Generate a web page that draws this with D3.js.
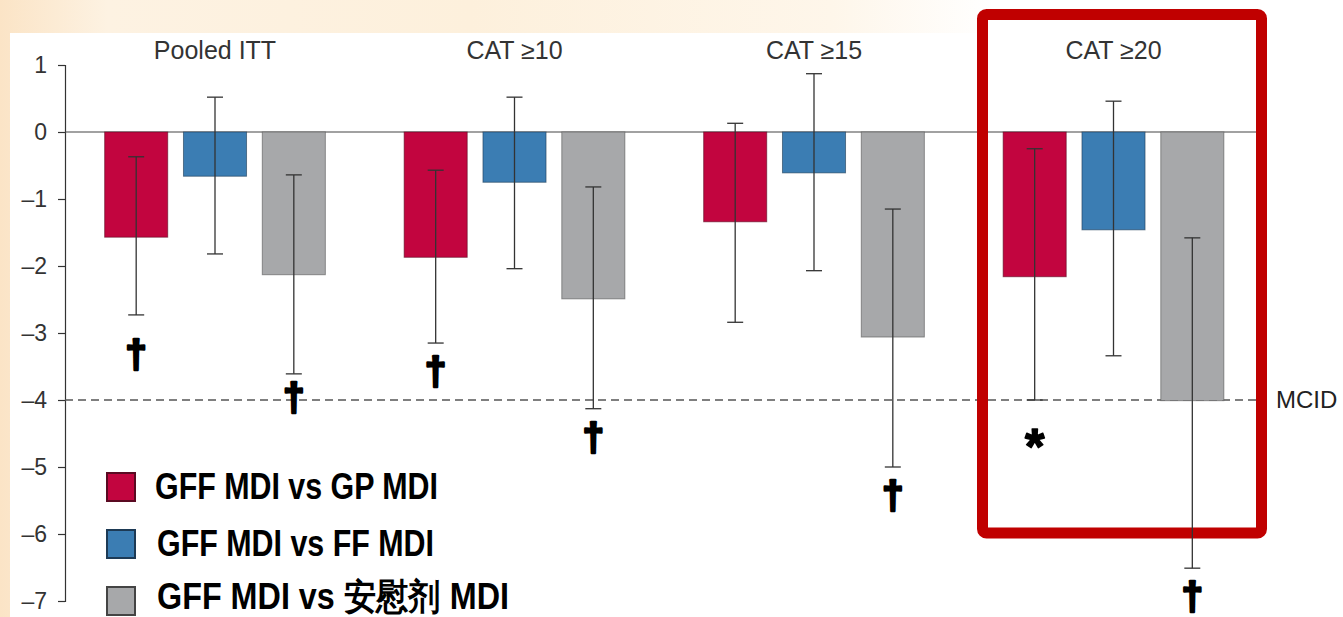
<!DOCTYPE html>
<html>
<head>
<meta charset="utf-8">
<script src="https://cdn.jsdelivr.net/npm/d3@7/dist/d3.min.js"></script>
<style>
  html, body { margin: 0; padding: 0; background: #ffffff; }
  svg { display: block; }
  text { font-family: "Liberation Sans", Arial, Helvetica, sans-serif; }
</style>
</head>
<body>
<svg id="chart" width="1343" height="617"></svg>
<script>
// Subgroups and treatment comparisons
const groups = ["Pooled ITT", "CAT \u226510", "CAT \u226515", "CAT \u226520"];
const series = ["GFF MDI vs GP MDI", "GFF MDI vs FF MDI", "GFF MDI vs \u5b89\u6170\u5242 MDI"];

// Least-squares mean differences with 95% CI, one value per subgroup
const gpDiff  = [-1.57, -1.87, -1.34, -2.16];
const gpLow   = [-2.73, -3.15, -2.84, -4.00];
const gpHigh  = [-0.37, -0.57,  0.13, -0.25];

const ffDiff  = [-0.66, -0.75, -0.61, -1.46];
const ffLow   = [-1.82, -2.04, -2.07, -3.34];
const ffHigh  = [ 0.52,  0.52,  0.87,  0.46];

const pboDiff = [-2.13, -2.49, -3.06, -4.01];
const pboLow  = [-3.61, -4.13, -5.00, -6.51];
const pboHigh = [-0.64, -0.82, -1.15, -1.58];

// Y axis ticks and the MCID threshold
const yTicks = [1, 0, -1, -2, -3, -4, -5, -6, -7];
const mcid = -4;
const mcidLabel = "MCID";

// Significance markers: [group index, series index, symbol]
const markers = [
  [0, 0, "\u2020"], [0, 2, "\u2020"],
  [1, 0, "\u2020"], [1, 2, "\u2020"],
  [2, 2, "\u2020"],
  [3, 0, "*"],      [3, 2, "\u2020"]
];

// ---- build rows from the arrays ----
const diffs = [gpDiff, ffDiff, pboDiff];
const lows  = [gpLow, ffLow, pboLow];
const highs = [gpHigh, ffHigh, pboHigh];
const rows = [];
groups.forEach((g, gi) => {
  series.forEach((s, si) => {
    rows.push({ group: g, series: s, gi, si,
      value: diffs[si][gi], low: lows[si][gi], high: highs[si][gi] });
  });
});

const colors = ["#c2053f", "#3b7db3", "#a7a8aa"];
const borders = ["#5a0a22", "#1d3a55", "#555555"];

const svg = d3.select("#chart");
const W = 1343, H = 617;

// ---- background ----
const defs = svg.append("defs");
const bg = defs.append("linearGradient").attr("id", "bgGrad")
  .attr("x1", "0%").attr("x2", "100%").attr("y1", "0%").attr("y2", "0%");
bg.append("stop").attr("offset", "0%").attr("stop-color", "#fbe4c6");
bg.append("stop").attr("offset", "8%").attr("stop-color", "#fdf2e2");
bg.append("stop").attr("offset", "35%").attr("stop-color", "#fdf0dc");
bg.append("stop").attr("offset", "62%").attr("stop-color", "#fef6ea");
bg.append("stop").attr("offset", "74%").attr("stop-color", "#ffffff");
svg.append("rect").attr("width", W).attr("height", H).attr("fill", "url(#bgGrad)");

// white plotting panel
svg.append("rect").attr("x", 10).attr("y", 33).attr("width", W - 10).attr("height", H - 33)
  .attr("fill", "#ffffff");

// ---- scales ----
const x0 = d3.scaleBand().domain(groups).range([65.25, 1263.25]).padding(0);
const x1 = d3.scaleBand().domain(series).range([0, x0.bandwidth()])
  .paddingInner(0.2).paddingOuter(0.5);
const y = d3.scaleLinear().domain([-7, 1]).range([601, 65]);

// highlight frame around the last subgroup
const frame = { x: 982.5, y: 14.5, w: 279, h: 518.5 };
svg.append("rect").attr("x", frame.x).attr("y", frame.y)
  .attr("width", frame.w).attr("height", frame.h).attr("fill", "#ffffff");

// ---- y axis ----
const yAxis = d3.axisLeft(y).tickValues(yTicks).tickSize(7).tickPadding(11)
  .tickFormat(d => d < 0 ? "\u2013" + Math.abs(d) : String(d));
const gAxis = svg.append("g").attr("transform", "translate(65,0)").call(yAxis);
gAxis.selectAll("path, line").attr("stroke", "#333").attr("stroke-width", 1.2);
gAxis.selectAll("text").attr("font-size", 23).attr("fill", "#333")
  .attr("font-family", "'Liberation Sans', Arial, sans-serif");

// zero line
svg.append("line").attr("x1", 65).attr("x2", 1256)
  .attr("y1", y(0)).attr("y2", y(0)).attr("stroke", "#444").attr("stroke-width", 1.2);

// MCID dashed line
svg.append("line").attr("x1", 65).attr("x2", 1257)
  .attr("y1", y(mcid)).attr("y2", y(mcid))
  .attr("stroke", "#555").attr("stroke-width", 1.3).attr("stroke-dasharray", "8,5");
svg.append("text").attr("x", 1276).attr("y", y(mcid)).attr("dy", "0.35em")
  .attr("font-size", 24).attr("fill", "#222").text(mcidLabel);

// group titles
svg.append("g").selectAll("text").data(groups).join("text")
  .attr("x", d => x0(d) + x0.bandwidth() / 2).attr("y", 59)
  .attr("text-anchor", "middle").attr("font-size", 25).attr("fill", "#333")
  .text(d => d);

// ---- bars ----
svg.append("g").selectAll("rect").data(rows).join("rect")
  .attr("x", d => x0(d.group) + x1(d.series))
  .attr("width", x1.bandwidth())
  .attr("y", d => y(Math.max(0, d.value)))
  .attr("height", d => Math.abs(y(d.value) - y(0)))
  .attr("fill", d => colors[d.si])
  .attr("stroke", d => borders[d.si]).attr("stroke-width", 1).attr("stroke-opacity", 0.6);

// frame stroke drawn over the panel
svg.append("rect").attr("x", frame.x).attr("y", frame.y)
  .attr("width", frame.w).attr("height", frame.h).attr("rx", 4)
  .attr("fill", "none").attr("stroke", "#c00000").attr("stroke-width", 11);

// ---- error bars ----
const cap = 8;
const eb = svg.append("g").attr("stroke", "#333").attr("stroke-width", 1.3);
rows.forEach(d => {
  const cx = x0(d.group) + x1(d.series) + x1.bandwidth() / 2;
  eb.append("line").attr("x1", cx).attr("x2", cx).attr("y1", y(d.high)).attr("y2", y(d.low));
  eb.append("line").attr("x1", cx - cap).attr("x2", cx + cap).attr("y1", y(d.high)).attr("y2", y(d.high));
  eb.append("line").attr("x1", cx - cap).attr("x2", cx + cap).attr("y1", y(d.low)).attr("y2", y(d.low));
});

// ---- significance markers below the CI ----
const markerGap = { "0-0": 40, "0-2": 24, "3-0": 35 };
svg.append("g").selectAll("text").data(markers).join("text")
  .attr("x", m => x0(groups[m[0]]) + x1(series[m[1]]) + x1.bandwidth() / 2)
  .attr("y", m => {
    const low = lows[m[1]][m[0]];
    const gap = markerGap[m[0] + "-" + m[1]] || 29;
    return y(low) + gap + (m[2] === "*" ? 29 : 12);
  })
  .attr("text-anchor", "middle")
  .attr("font-weight", "bold")
  .attr("font-size", m => m[2] === "*" ? 50 : 38)
  .attr("fill", "#000")
  .attr("stroke", "#000")
  .attr("stroke-width", m => m[2] === "*" ? 1.5 : 2.6)
  .attr("stroke-linejoin", "round")
  .attr("font-family", "'DejaVu Sans', 'Liberation Sans', sans-serif")
  .text(m => m[2]);

// ---- legend ----
const legendWidths = [283, 277, 352];
const lg = svg.append("g");
series.forEach((s, i) => {
  const top = 472 + i * 57;
  lg.append("rect").attr("x", 107).attr("y", top + 1).attr("width", 28).attr("height", 28)
    .attr("fill", colors[i]).attr("stroke", i === 2 ? "#444" : borders[i]).attr("stroke-width", 2);
  const t = lg.append("text").attr("x", 155 + (i > 0 ? 2 : 0)).attr("y", top + 27 - (i === 2 ? 4 : 0))
    .attr("font-size", i === 2 ? 36 : 37).attr("font-weight", "bold").attr("fill", "#000")
    .attr("font-family", "'Liberation Sans Narrow', 'Arial Narrow', 'Liberation Sans', 'Noto Sans CJK SC', sans-serif")
    .text(s);
  t.attr("textLength", legendWidths[i]).attr("lengthAdjust", "spacingAndGlyphs");
});
</script>
</body>
</html>
